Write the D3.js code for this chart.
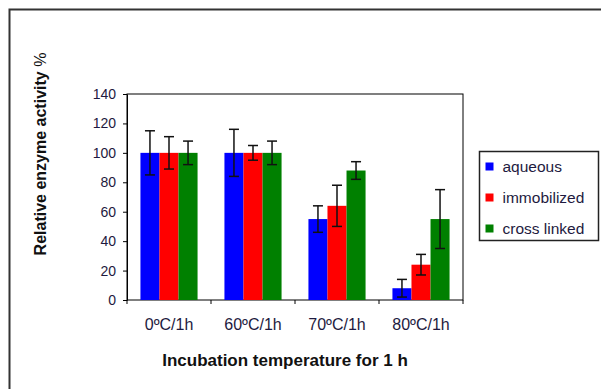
<!DOCTYPE html>
<html>
<head>
<meta charset="utf-8">
<script src="https://cdn.jsdelivr.net/npm/d3@7"></script>
<style>
  body { margin: 0; background: #fff; }
  text { font-family: "Liberation Sans", Arial, sans-serif; }
</style>
</head>
<body>
<div id="chart"></div>
<script>
// data
const categories = ["0ºC/1h", "60ºC/1h", "70ºC/1h", "80ºC/1h"];
const seriesNames = ["aqueous", "immobilized", "cross linked"];
const aqueous = [100, 100, 55, 8];
const immobilized = [100, 100, 64, 24];
const crossLinked = [100, 100, 88, 55];
const aqueousErr = [15, 16, 9, 6];
const immobilizedErr = [11, 5, 14, 7];
const crossLinkedErr = [8, 8, 6, 20];
const yTicks = [0, 20, 40, 60, 80, 100, 120, 140];

const colors = ["#0000ff", "#ff0000", "#008000"];
const values = [aqueous, immobilized, crossLinked];
const errs = [aqueousErr, immobilizedErr, crossLinkedErr];

let margin = { top: 94, left: 127, right: 138, bottom: 89 },
    width = 601 - margin.left - margin.right,
    height = 389 - margin.top - margin.bottom;

let svg = d3.select("#chart")
    .append('svg')
    .attr('width', 601)
    .attr('height', 389);

// outer frame (runs off right and bottom)
svg.append('rect')
    .attr('x', 9.5).attr('y', 9.5)
    .attr('width', 700).attr('height', 500)
    .attr('fill', 'none')
    .attr('stroke', '#333')
    .attr('stroke-width', 2);

const g = svg.append('g')
    .attr('transform', 'translate(' + margin.left + ',' + margin.top + ')');

const x = d3.scaleBand().domain(categories).range([0, width]).paddingInner(0.32).paddingOuter(0.16);
const xs = d3.scaleBand().domain(seriesNames).range([0, x.bandwidth()]);
const y = d3.scaleLinear().domain([0, 140]).range([height, 0]);

// plot frame
g.append('rect')
    .attr('width', width).attr('height', height)
    .attr('fill', 'none').attr('stroke', '#000').attr('stroke-width', 1);

// bars
seriesNames.forEach((s, i) => {
  const grp = g.append('g');
  grp.selectAll('rect')
    .data(categories)
    .enter()
    .append('rect')
    .attr('x', c => x(c) + xs(s))
    .attr('y', (c, j) => y(values[i][j]))
    .attr('width', xs.bandwidth())
    .attr('height', (c, j) => height - y(values[i][j]))
    .attr('fill', colors[i]);
});

// error bars
seriesNames.forEach((s, i) => {
  categories.forEach((c, j) => {
    const cx = x(c) + xs(s) + xs.bandwidth() / 2;
    const hi = y(values[i][j] + errs[i][j]);
    const lo = y(values[i][j] - errs[i][j]);
    const eg = g.append('g').attr('stroke', '#111').attr('stroke-width', 1.5);
    eg.append('line').attr('x1', cx).attr('x2', cx).attr('y1', hi).attr('y2', lo);
    eg.append('line').attr('x1', cx - 5).attr('x2', cx + 5).attr('y1', hi).attr('y2', hi);
    eg.append('line').attr('x1', cx - 5).attr('x2', cx + 5).attr('y1', lo).attr('y2', lo);
  });
});

// y axis
const yAxis = g.append('g')
    .call(d3.axisLeft(y).tickValues(yTicks).tickSize(4).tickSizeOuter(0));
yAxis.select('.domain').attr('stroke', '#000');
yAxis.selectAll('text').attr('font-size', 14).attr('fill', '#1e1a40').attr('dx', -4);

// x axis
const xAxis = g.append('g')
    .attr('transform', 'translate(0,' + height + ')')
    .call(d3.axisBottom(x).tickSize(0));
xAxis.select('.domain').remove();
xAxis.selectAll('text').attr('font-size', 16).attr('fill', '#1e1a40')
    .attr('y', 25).attr('dy', '0.32em');
// category boundary ticks
g.selectAll('.bt')
    .data(d3.range(categories.length + 1))
    .enter()
    .append('line')
    .attr('x1', d => d * width / categories.length)
    .attr('x2', d => d * width / categories.length)
    .attr('y1', height).attr('y2', height + 4)
    .attr('stroke', '#000');

// axis titles
svg.append('text')
    .attr('transform', 'translate(46,154) rotate(-90)')
    .attr('text-anchor', 'middle')
    .attr('font-size', 16)
    .attr('font-weight', 'bold')
    .attr('fill', '#111')
    .text('Relative enzyme activity ')
    .append('tspan').attr('font-weight', 'normal').text('%');

svg.append('text')
    .attr('x', 285).attr('y', 366)
    .attr('text-anchor', 'middle')
    .attr('font-size', 17)
    .attr('font-weight', 'bold')
    .attr('fill', '#111')
    .text('Incubation temperature for 1 h');

// legend
const lg = svg.append('g').attr('transform', 'translate(479.5,151.5)');
lg.append('rect').attr('width', 119).attr('height', 89)
    .attr('fill', '#fff').attr('stroke', '#222').attr('stroke-width', 1.5);
seriesNames.forEach((s, i) => {
  const row = lg.append('g').attr('transform', 'translate(0,' + (15 + i * 31) + ')');
  row.append('rect').attr('x', 6).attr('y', -4).attr('width', 8).attr('height', 8).attr('fill', colors[i]);
  row.append('text').attr('x', 23).attr('dy', '0.35em')
      .attr('font-size', 15.5).attr('fill', '#1e1a40').text(s);
});
</script>
</body>
</html>
